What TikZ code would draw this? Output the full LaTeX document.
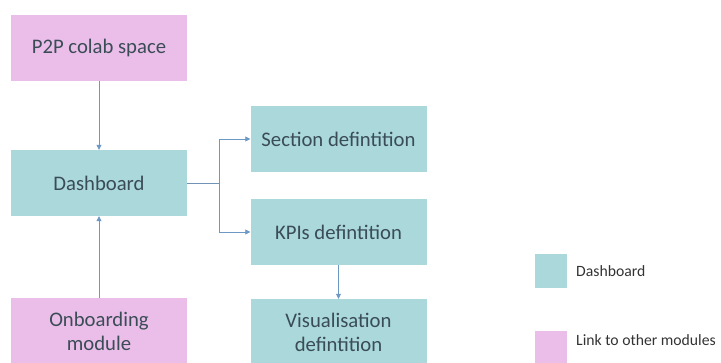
\documentclass[tikz,border=0pt]{standalone}
\usepackage{fontspec}
\setmainfont{Carlito}
\usetikzlibrary{arrows.meta}
\definecolor{tealfill}{RGB}{170,216,219}
\definecolor{pinkfill}{RGB}{235,190,234}
\definecolor{boxtext}{RGB}{58,76,86}
\definecolor{linkblue}{RGB}{108,152,196}
\tikzset{
  dashbox/.style={fill=tealfill, minimum width=176pt, minimum height=66pt, inner sep=0pt,
    text=boxtext, font=\fontsize{20.7}{24}\selectfont, align=center},
  modbox/.style={dashbox, fill=pinkfill},
  flow/.style={draw=linkblue, line width=0.8pt, -{Triangle[width=5pt,length=5pt]}},
  trunk/.style={draw=linkblue!80!gray, line width=0.8pt},
  legtext/.style={anchor=west, inner sep=0pt, text=black!80, font=\fontsize{15.7}{19}\selectfont},
  legsq/.style={minimum width=32pt, minimum height=34pt, inner sep=0pt}
}
\begin{document}
\begin{tikzpicture}[x=1pt, y=-1pt]
  \useasboundingbox (0,0) rectangle (721,363);
  \clip (0,0) rectangle (721,363);

  % module boxes
  \node[modbox]  (p2p)   at (99,48)    {P2P colab space};
  \node[dashbox] (dash)  at (99,183)   {Dashboard};
  \node[modbox]  (onb)   at (99,331)   {Onboarding\\module};
  \node[dashbox] (sect)  at (338.5,139) {Section defintition};
  \node[dashbox] (kpi)   at (338.5,232) {KPIs defintition};
  \node[dashbox] (vis)   at (338.5,332) {Visualisation\\defintition};

  % connectors
  \draw[flow] (p2p.south) -- (dash.north);
  \draw[flow] (onb.north) -- (dash.south);
  \coordinate (fork) at (219,183);
  \draw[trunk] (dash.east) -- (fork);
  \draw[flow] (fork) |- (sect.west);
  \draw[flow] (fork) |- (kpi.west);
  \draw[flow] (kpi.south) -- (vis.north);

  % legend
  \node[legsq, fill=tealfill] (legdash) at (551,271) {};
  \node[legsq, fill=pinkfill] (legmod)  at (551,348) {};
  \node[legtext] (legdasht) at (576,271) {Dashboard};
  \node[legtext] (legmodt)  at (576,340) {Link to other modules};
\end{tikzpicture}
\end{document}
